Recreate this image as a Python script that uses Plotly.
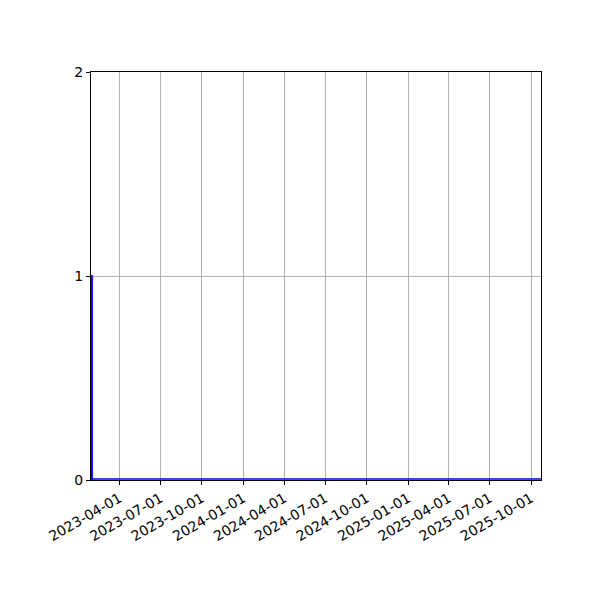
import plotly.graph_objects as go

# one event in the first bin, nothing afterwards
bin_dates = ["2023-01-30"]
bin_counts = [1]
x_range = ["2023-01-28", "2025-10-23"]
y_ticks = [0, 1, 2]

DAY_MS = 24 * 3600 * 1000

fig = go.Figure()
fig.add_trace(go.Bar(
    x=bin_dates, y=bin_counts,
    width=[3 * DAY_MS] * len(bin_dates),
    marker=dict(color="blue", line=dict(color="blue", width=0.8)),
    showlegend=False,
))

# blue edge of the empty bins, sitting just on top of the bottom spine
fig.add_shape(type="line", xref="paper", x0=0, x1=1,
              yref="y", ysizemode="pixel", yanchor=0, y0=1, y1=1,
              line=dict(color="blue", width=1.5), layer="above")

fig.update_layout(
    width=600, height=600,
    margin=dict(l=83, r=67, t=64, b=128),
    paper_bgcolor="white", plot_bgcolor="white",
    font=dict(family="DejaVu Sans", size=14, color="black"),
    bargap=0,
)
fig.update_xaxes(
    type="date", range=x_range,
    tick0="2023-01-01", dtick="M3", tickformat="%Y-%m-%d", tickangle=-30,
    ticks="outside", ticklen=4, tickcolor="black",
    showgrid=True, gridcolor="#b0b0b0", gridwidth=0.8,
    showline=True, linecolor="black", linewidth=1, mirror=True,
)
fig.update_yaxes(
    range=[0, 2], tickvals=y_ticks,
    ticks="outside", ticklen=4, tickcolor="black",
    showgrid=True, gridcolor="#b0b0b0", gridwidth=0.8,
    zeroline=False,
    showline=True, linecolor="black", linewidth=1, mirror=True,
)

fig.write_html("out.html")
